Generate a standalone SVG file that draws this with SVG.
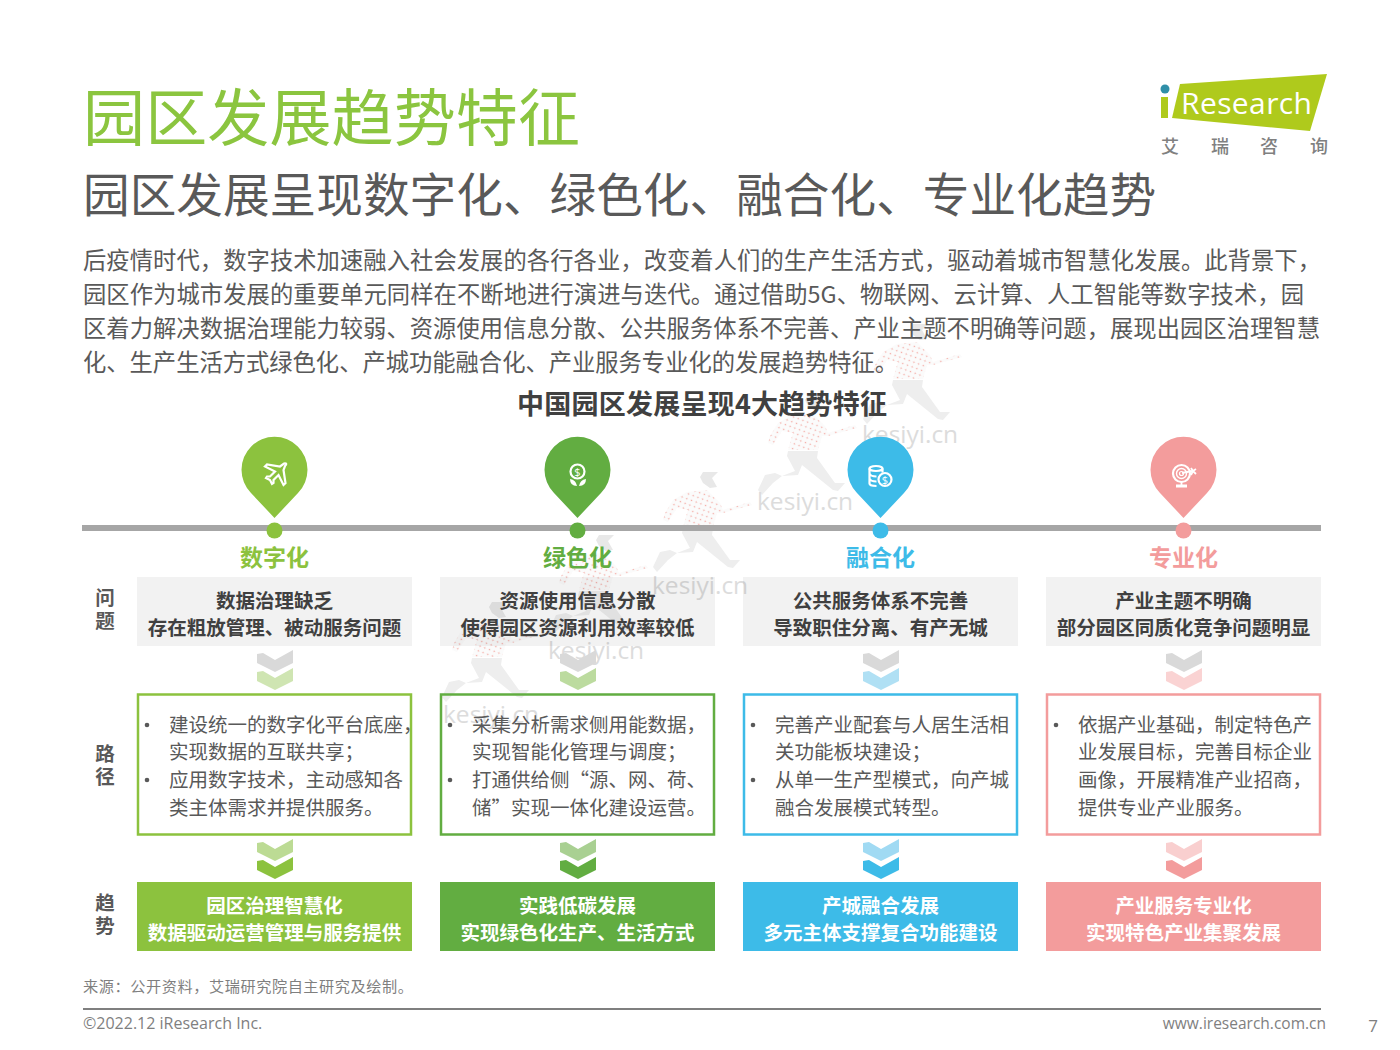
<svg xmlns="http://www.w3.org/2000/svg" xmlns:xlink="http://www.w3.org/1999/xlink" width="1400" height="1050" viewBox="0 0 1400 1050">
<style>
text{font-family:"Noto Sans CJK SC","Noto Sans",sans-serif}
.lat{font-family:"Open Sans","Noto Sans",sans-serif}
.title{font-size:62px;fill:#8bc53f;font-weight:400}
.sub{font-size:46.6px;fill:#595959;font-weight:400}
.body{font-size:23.3px;fill:#595959}
.head{font-size:27px;fill:#404040;font-weight:700}
.side{font-size:19.5px;fill:#595959;font-weight:700;text-anchor:middle}
.lab{font-size:23px;font-weight:700;text-anchor:middle}
.prob{font-size:19.5px;fill:#404040;font-weight:700;text-anchor:middle}
.path{font-size:19.5px;fill:#595959}
.res{font-size:19.5px;fill:#fff;font-weight:700;text-anchor:middle}
.wm{font-size:24.5px;fill:#dcdcdc}
.foot{font-size:16px;fill:#7f7f7f}
.ico{fill:none;stroke:#fff;stroke-width:2.2}
.box{fill:none;stroke-width:2.5}
.gb{fill:#000;fill-opacity:.05}
.gc{fill:#d9d9d9}
.lg{fill:#808080;font-size:18px;font-weight:500;text-anchor:middle}
.bul{fill:#595959}
</style>
<defs>
<pattern id="dots" width="5" height="5" patternUnits="userSpaceOnUse" patternTransform="rotate(20)"><rect width="5" height="5" fill="#fbfbfb"/><circle cx="2.500" cy="2.500" r="0.800" fill="#f4a9a3"/></pattern>
<g id="runner">
<path d="M-13 18 L17 18 L16 25 L34 50 L44 50 L37 58 L32 57 L1 32 L-3 42 L-19 43 L-28 50 L-39 62 L-43 57 L-36 42 L-26 40 L-19 43 L-6 38 L-14 23 Z" fill="#eeeeee"/>
<path d="M-31 3 L-23 -10 L-9 -18 L11 -20 L24 -7 L27 0 L54 -8 L56 -5 L27 3 L21 3 L17 17 L-13 17 L-8 0 L-19 -2 L-28 12 L-33 10 Z" fill="url(#dots)"/>
<path d="M7 -38 L22 -38 L19 -35 L16 -32 L21 -23 L14 -22 L7 -27 L4 -33 Z" fill="#e8e8e8"/>
</g>
<path id="pin" d="M0 48 L-23.500 23 A33 33 0 1 1 23.500 23 Z"/>
<path id="chev" d="M0 5 L0 14 L18 23 L36 14 L36 1 L18 11 L6 4 Z"/>
</defs>
<g id="watermark">
<use xlink:href="#runner" x="906" y="362"/>
<use xlink:href="#runner" x="801" y="433"/>
<use xlink:href="#runner" x="696" y="510"/>
<use xlink:href="#runner" x="592" y="573"/>
<use xlink:href="#runner" x="485" y="640"/>
<text class="wm lat" x="862" y="443">kesiyi.cn</text>
<text class="wm lat" x="757" y="510">kesiyi.cn</text>
<text class="wm lat" x="652" y="594">kesiyi.cn</text>
<text class="wm lat" x="548" y="659">kesiyi.cn</text>
<text class="wm lat" x="443" y="723">kesiyi.cn</text>
</g>
<g id="header">
<text class="title" x="83" y="141" textLength="497">园区发展趋势特征</text>
<text class="sub" x="83" y="212" textLength="1073">园区发展呈现数字化、绿色化、融合化、专业化趋势</text>
<text class="body" x="83" y="269" textLength="1238">后疫情时代，数字技术加速融入社会发展的各行各业，改变着人们的生产生活方式，驱动着城市智慧化发展。此背景下，</text>
<text class="body" x="83" y="303" textLength="1221">园区作为城市发展的重要单元同样在不断地进行演进与迭代。通过借助5G、物联网、云计算、人工智能等数字技术，园</text>
<text class="body" x="83" y="337" textLength="1237">区着力解决数据治理能力较弱、资源使用信息分散、公共服务体系不完善、产业主题不明确等问题，展现出园区治理智慧</text>
<text class="body" x="83" y="371" textLength="815">化、生产生活方式绿色化、产城功能融合化、产业服务专业化的发展趋势特征。</text>
<text class="head" x="517" y="414" textLength="370">中国园区发展呈现4大趋势特征</text>
</g>
<g id="logo">
<polygon points="1180,84 1327,74 1310,131 1172,118" fill="#afca1c"/>
<rect x="1161" y="97" width="7" height="21" fill="#afca1c"/>
<circle cx="1165" cy="89" r="4.500" fill="#2f8fa8"/>
<text class="lat" x="1181" y="114" font-size="30" fill="#fff" textLength="131">Research</text>
<text class="lg" x="1170" y="152.500">艾</text>
<text class="lg" x="1220" y="152.500">瑞</text>
<text class="lg" x="1269" y="152.500">咨</text>
<text class="lg" x="1319" y="152.500">询</text>
</g>
<g id="connectors">
<rect x="82" y="525" width="1239" height="6" fill="#a6a6a6"/>
<g transform="translate(257 649)"><use xlink:href="#chev" class="gc"/><use xlink:href="#chev" y="18" fill="#cfe5b2"/></g>
<g transform="translate(560 649)"><use xlink:href="#chev" class="gc"/><use xlink:href="#chev" y="18" fill="#bcdb9f"/></g>
<g transform="translate(863 649)"><use xlink:href="#chev" class="gc"/><use xlink:href="#chev" y="18" fill="#b0e0f4"/></g>
<g transform="translate(1166 649)"><use xlink:href="#chev" class="gc"/><use xlink:href="#chev" y="18" fill="#fad3d3"/></g>
<g transform="translate(257 838)"><use xlink:href="#chev" fill="#bcdb94"/><use xlink:href="#chev" y="18" fill="#8cc23e"/></g>
<g transform="translate(560 838)"><use xlink:href="#chev" fill="#a9d092"/><use xlink:href="#chev" y="18" fill="#62ad41"/></g>
<g transform="translate(863 838)"><use xlink:href="#chev" fill="#a0daf3"/><use xlink:href="#chev" y="18" fill="#3dbbe8"/></g>
<g transform="translate(1166 838)"><use xlink:href="#chev" fill="#f9cfcf"/><use xlink:href="#chev" y="18" fill="#f39c9c"/></g>
</g>
<g id="side-labels">
<text class="side" x="105" y="605">问</text><text class="side" x="105" y="628">题</text>
<text class="side" x="105" y="761">路</text><text class="side" x="105" y="784">径</text>
<text class="side" x="105" y="910">趋</text><text class="side" x="105" y="933">势</text>
</g>
<g id="col-digital">
<use xlink:href="#pin" x="274.500" y="470" fill="#8cc23e"/>
<circle cx="274.500" cy="530.500" r="8" fill="#8cc23e"/>
<path class="ico" d="M285 466 q3 -3 -1 -2.500 l-4 3 l-13 -2 l-2 2 l10 5 l-5 5 l-3 0 l-1 1.500 l4 2 l2 4 l1.500 -1 l0 -3 l5 -5 l5 10 l2 -2 l-2 -13 z"/>
<text class="lab" x="274.500" y="566" fill="#8cc23e">数字化</text>
<rect class="gb" x="137" y="577" width="275" height="69"/>
<text class="prob" x="274.500" y="607.500">数据治理缺乏</text>
<text class="prob" x="274.500" y="634.500">存在粗放管理、被动服务问题</text>
<rect class="box" x="138" y="694.500" width="273" height="140" stroke="#8cc23e"/>
<circle class="bul" cx="147" cy="725" r="2.300"/><circle class="bul" cx="147" cy="780" r="2.300"/>
<text class="path" x="169" y="732">建设统一的数字化平台底座，</text>
<text class="path" x="169" y="759">实现数据的互联共享；</text>
<text class="path" x="169" y="787">应用数字技术，主动感知各</text>
<text class="path" x="169" y="815">类主体需求并提供服务。</text>
<rect x="137" y="882" width="275" height="69" fill="#8cc23e"/>
<text class="res" x="274.500" y="912.500">园区治理智慧化</text>
<text class="res" x="274.500" y="939.500">数据驱动运营管理与服务提供</text>
</g>
<g id="col-green">
<use xlink:href="#pin" x="577.500" y="470" fill="#62ad41"/>
<circle cx="577.500" cy="530.500" r="8" fill="#62ad41"/>
<circle class="ico" cx="577.500" cy="471.500" r="7"/>
<text x="577.500" y="475.500" font-size="11" fill="#fff" text-anchor="middle" class="lat">$</text>
<path fill="#fff" d="M570 479 q0 7 7 7 q-1 -6 -7 -7z M586 479 q0 7 -7 7 q1 -6 7 -7z"/>
<text class="lab" x="577.500" y="566" fill="#62ad41">绿色化</text>
<rect class="gb" x="440" y="577" width="275" height="69"/>
<text class="prob" x="577.500" y="607.500">资源使用信息分散</text>
<text class="prob" x="577.500" y="634.500">使得园区资源利用效率较低</text>
<rect class="box" x="441" y="694.500" width="273" height="140" stroke="#62ad41"/>
<circle class="bul" cx="450" cy="725" r="2.300"/><circle class="bul" cx="450" cy="780" r="2.300"/>
<text class="path" x="472" y="732">采集分析需求侧用能数据，</text>
<text class="path" x="472" y="759">实现智能化管理与调度；</text>
<text class="path" x="472" y="787">打通供给侧“源、网、荷、</text>
<text class="path" x="472" y="815">储”实现一体化建设运营。</text>
<rect x="440" y="882" width="275" height="69" fill="#62ad41"/>
<text class="res" x="577.500" y="912.500">实践低碳发展</text>
<text class="res" x="577.500" y="939.500">实现绿色化生产、生活方式</text>
</g>
<g id="col-fusion">
<use xlink:href="#pin" x="880.500" y="470" fill="#3dbbe8"/>
<circle cx="880.500" cy="530.500" r="8" fill="#3dbbe8"/>
<ellipse class="ico" cx="876" cy="468.500" rx="6.500" ry="2.500"/>
<path class="ico" d="M869.500 468.500 v15 q0 2.500 7 2.500 M869.500 473.500 q1 3 7 3 M869.500 478.500 q1 3 7 3 M882.500 468.500 v4"/>
<circle class="ico" cx="885" cy="479.500" r="6.500" fill="#3dbbe8" style="fill:#3dbbe8"/>
<text x="885" y="483.500" font-size="11" fill="#fff" text-anchor="middle" class="lat">$</text>
<text class="lab" x="880.500" y="566" fill="#3dbbe8">融合化</text>
<rect class="gb" x="743" y="577" width="275" height="69"/>
<text class="prob" x="880.500" y="607.500">公共服务体系不完善</text>
<text class="prob" x="880.500" y="634.500">导致职住分离、有产无城</text>
<rect class="box" x="744" y="694.500" width="273" height="140" stroke="#3dbbe8"/>
<circle class="bul" cx="753" cy="725" r="2.300"/><circle class="bul" cx="753" cy="780" r="2.300"/>
<text class="path" x="775" y="732">完善产业配套与人居生活相</text>
<text class="path" x="775" y="759">关功能板块建设；</text>
<text class="path" x="775" y="787">从单一生产型模式，向产城</text>
<text class="path" x="775" y="815">融合发展模式转型。</text>
<rect x="743" y="882" width="275" height="69" fill="#3dbbe8"/>
<text class="res" x="880.500" y="912.500">产城融合发展</text>
<text class="res" x="880.500" y="939.500">多元主体支撑复合功能建设</text>
</g>
<g id="col-special">
<use xlink:href="#pin" x="1183.500" y="470" fill="#f39c9c"/>
<circle cx="1183.500" cy="530.500" r="8" fill="#f39c9c"/>
<circle class="ico" cx="1181.500" cy="473.500" r="8.500"/>
<circle class="ico" cx="1181.500" cy="473.500" r="5" style="stroke-width:1.400"/>
<circle class="ico" cx="1181.500" cy="473.500" r="2" style="stroke-width:1.200"/>
<path class="ico" style="stroke-width:1.800" d="M1182 473 L1192 471 M1191 468 l2 3 l3 -2 M1191 475 l2 -4 l3 3 M1181.500 482 v3"/>
<rect x="1176" y="484.500" width="11" height="3" fill="#fff"/>
<text class="lab" x="1183.500" y="566" fill="#f39c9c">专业化</text>
<rect class="gb" x="1046" y="577" width="275" height="69"/>
<text class="prob" x="1183.500" y="607.500">产业主题不明确</text>
<text class="prob" x="1183.500" y="634.500">部分园区同质化竞争问题明显</text>
<rect class="box" x="1047" y="694.500" width="273" height="140" stroke="#f39c9c"/>
<circle class="bul" cx="1056" cy="725" r="2.300"/>
<text class="path" x="1078" y="732">依据产业基础，制定特色产</text>
<text class="path" x="1078" y="759">业发展目标，完善目标企业</text>
<text class="path" x="1078" y="787">画像，开展精准产业招商，</text>
<text class="path" x="1078" y="815">提供专业产业服务。</text>
<rect x="1046" y="882" width="275" height="69" fill="#f39c9c"/>
<text class="res" x="1183.500" y="912.500">产业服务专业化</text>
<text class="res" x="1183.500" y="939.500">实现特色产业集聚发展</text>
</g>
<g id="footer">
<text x="83" y="992" font-size="15.200" fill="#7f7f7f" textLength="330">来源：公开资料，艾瑞研究院自主研究及绘制。</text>
<rect x="83" y="1008" width="1238" height="2" fill="#7f7f7f"/>
<text class="foot lat" x="83" y="1029">©2022.12 iResearch Inc.</text>
<text class="foot lat" x="1326" y="1029" text-anchor="end" style="font-size:15.500px">www.iresearch.com.cn</text>
<text class="lat" x="1373" y="1032" font-size="17" fill="#7f7f7f" text-anchor="middle">7</text>
</g>
</svg>
